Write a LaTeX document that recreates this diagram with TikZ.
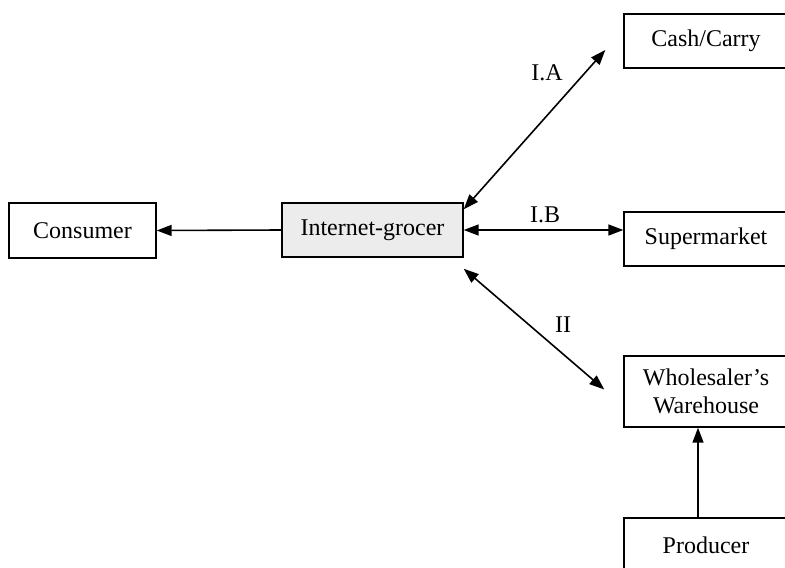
\documentclass[tikz,border=0pt]{standalone}
\usepackage{fontspec}
\setmainfont{Liberation Serif}
\usetikzlibrary{arrows.meta}
\definecolor{G}{RGB}{236,236,236}
\newcommand{\drawarrow}{\draw[line width=0.8pt,-{Triangle[length=7.5pt,width=5.5pt]}]}
\newcommand{\drawboth}{\draw[line width=0.8pt,{Triangle[length=7.5pt,width=5.5pt]}-{Triangle[length=7.5pt,width=5.5pt]}]}
\tikzset{
  party/.style={draw, line width=0.7pt, font=\fontsize{12}{14}\selectfont,
    inner sep=0pt, align=center},
  route/.style={font=\fontsize{12}{14}\selectfont}
}
\begin{document}
\begin{tikzpicture}[x=0.5pt,y=-0.5pt]
\useasboundingbox (0,0) rectangle (785,567);
\node[party, minimum width=73.5pt, minimum height=27.5pt] (consumer) at (82.5,230.5) {Consumer};
\node[party, fill=G, minimum width=90.5pt, minimum height=27pt] (grocer) at (372.5,230) {Internet-grocer};
\node[party, minimum width=82pt, minimum height=27pt] (cash) at (706,41) {Cash/Carry};
\node[party, minimum width=82pt, minimum height=27pt] (super) at (706,239) {Supermarket};
\node[party, minimum width=82pt, minimum height=35.5pt] (whole) at (706,391.5) {Wholesaler's\\Warehouse};
\node[party, minimum width=82pt, minimum height=27pt] (producer) at (706,545) {Producer};
\drawarrow (grocer.west) -- (consumer.east);
\drawboth ([yshift=-3.5pt]grocer.north east) -- ([xshift=-9pt,yshift=-4.5pt]cash.west);
\drawboth (grocer.east) -- (grocer.east -| super.west);
\drawboth ([yshift=-5.5pt]grocer.south east) -- ([xshift=-9.5pt,yshift=1pt]whole.west);
\drawarrow ([xshift=-4pt]producer.north) -- ([xshift=-4pt]whole.south);
\node[route] (ia) at (547,73) {I.A};
\node[route] (ib) at (545,215) {I.B};
\node[route] (ii) at (563,325) {II};
\end{tikzpicture}
\end{document}
